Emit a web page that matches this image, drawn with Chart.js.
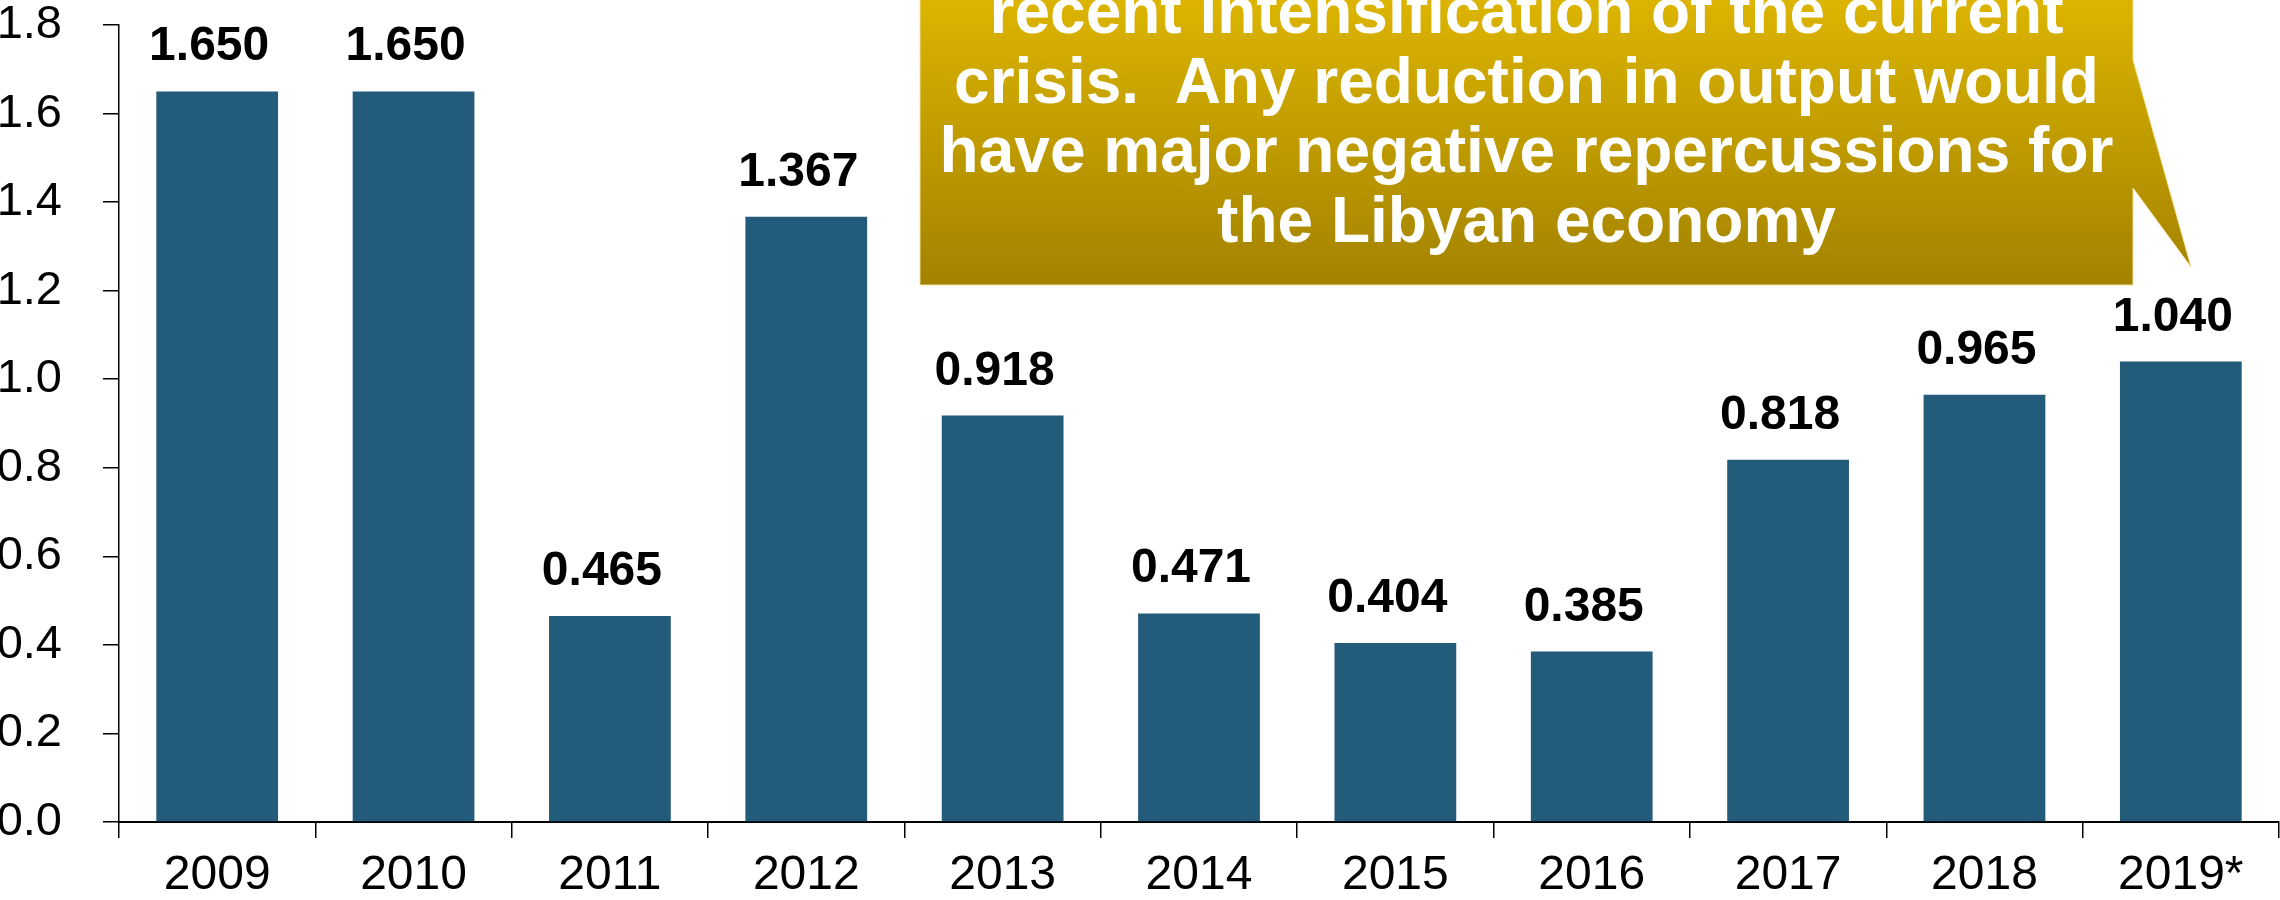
<!DOCTYPE html>
<html>
<head>
<meta charset="utf-8">
<script src="https://cdn.jsdelivr.net/npm/chart.js@4/dist/chart.umd.min.js"></script>
<style>
  body { margin: 0; background: #fff; }
  #wrap { width: 2280px; height: 900px; position: relative; }
</style>
</head>
<body>
<div id="wrap"><canvas id="chart"></canvas></div>
<script>
// data
const years = ['2009', '2010', '2011', '2012', '2013', '2014', '2015', '2016', '2017', '2018', '2019*'];
const output = [1.650, 1.650, 0.465, 1.367, 0.918, 0.471, 0.404, 0.385, 0.818, 0.965, 1.040];
const yMin = 0;
const yMax = 1.8;
const yStep = 0.2;

// callout text (top of the box is cut off in the original)
const calloutLines = [
    'recent intensification of the current',
    'crisis.  Any reduction in output would',
    'have major negative repercussions for',
    'the Libyan economy'
];

const FONT = "'Liberation Sans', Arial, Helvetica, sans-serif";

// values above the bars
const valueLabels = {
    id: 'valueLabels',
    afterDatasetsDraw(chart) {
        const ctx = chart.ctx;
        const meta = chart.getDatasetMeta(0);
        ctx.save();
        ctx.font = 'bold 48px ' + FONT;
        ctx.fillStyle = '#000';
        ctx.textAlign = 'center';
        ctx.textBaseline = 'alphabetic';
        meta.data.forEach(function(bar, i) {
            ctx.fillText(output[i].toFixed(3), bar.x - 8, bar.y - 31);
        });
        ctx.restore();
    }
};

// gold speech box in the top right
const callout = {
    id: 'callout',
    afterDraw(chart) {
        const ctx = chart.ctx;
        const left = 920, right = 2133, top = -120, bottom = 285;
        const grad = ctx.createLinearGradient(0, 0, 0, bottom);
        grad.addColorStop(0, '#dcb400');
        grad.addColorStop(1, '#a38200');

        ctx.save();
        ctx.beginPath();
        ctx.moveTo(left, top);
        ctx.lineTo(right, top);
        ctx.lineTo(right, 60);
        ctx.lineTo(2191, 267);
        ctx.lineTo(right, 188);
        ctx.lineTo(right, bottom);
        ctx.lineTo(left, bottom);
        ctx.closePath();
        ctx.fillStyle = grad;
        ctx.fill();
        ctx.strokeStyle = 'rgba(245, 228, 160, 0.9)';
        ctx.lineWidth = 1;
        ctx.stroke();

        ctx.font = 'bold 64px ' + FONT;
        ctx.fillStyle = '#fff';
        ctx.textAlign = 'center';
        ctx.textBaseline = 'alphabetic';
        const cx = (left + right) / 2;
        calloutLines.forEach(function(line, i) {
            ctx.fillText(line, cx, 33 + i * 69.7);
        });
        ctx.restore();
    }
};

const data = {
    labels: years,
    datasets: [{
        data: output,
        backgroundColor: '#235b7a',
        borderWidth: 0,
        categoryPercentage: 1.0,
        barPercentage: 0.62
    }]
};

const options = {
    responsive: true,
    maintainAspectRatio: false,
    animation: false,
    layout: { padding: { top: 25, right: 1, left: 0, bottom: 0 } },
    plugins: {
        legend: { display: false },
        tooltip: { enabled: false },
        title: { display: false }
    },
    scales: {
        x: {
            offset: true,
            grid: {
                offset: true,
                drawOnChartArea: false,
                drawTicks: true,
                tickLength: 16,
                color: '#000',
                lineWidth: 1.5
            },
            border: { display: true, color: '#000', width: 2 },
            ticks: {
                color: '#000',
                font: { family: FONT, size: 48, lineHeight: 1 },
                padding: 14,
                maxRotation: 0
            },
            afterFit(scale) { scale.height = 78; }
        },
        y: {
            min: yMin,
            max: yMax,
            grid: {
                drawOnChartArea: false,
                drawTicks: true,
                tickLength: 16,
                color: '#000',
                lineWidth: 1.5
            },
            border: { display: true, color: '#000', width: 1.5 },
            ticks: {
                stepSize: yStep,
                color: '#000',
                font: { family: FONT, size: 47, lineHeight: 1 },
                padding: 41,
                callback: function(v) { return v.toFixed(1); }
            },
            afterFit(scale) {
                scale.width = 119;
                scale.paddingTop = 20;
                scale.paddingBottom = 20;
            }
        }
    }
};

const ctx = document.getElementById('chart').getContext('2d');
const myChart = new Chart(ctx, {
    type: 'bar',
    data: data,
    options: options,
    plugins: [valueLabels, callout]
});
</script>
</body>
</html>
